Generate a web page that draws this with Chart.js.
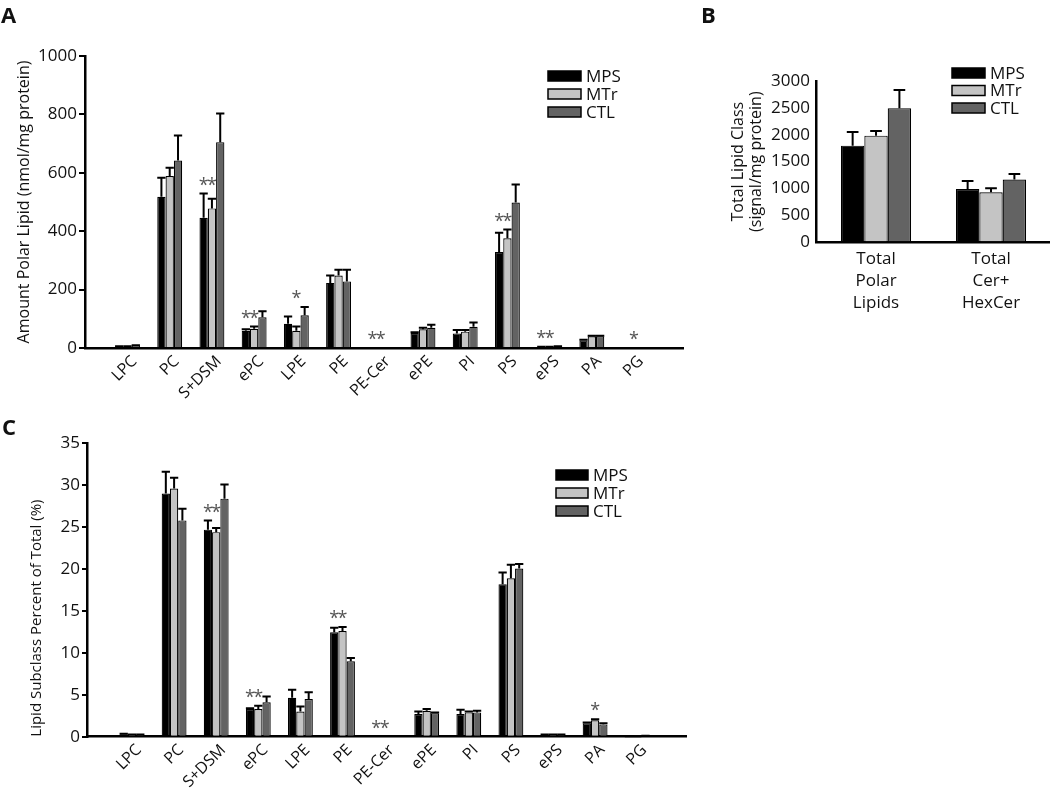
<!DOCTYPE html>
<html>
<head>
<meta charset="utf-8">
<script src="https://cdn.jsdelivr.net/npm/chart.js@4.4.1/dist/chart.umd.min.js"></script>
<style>
  html, body { margin: 0; padding: 0; background: #fff; }
  #wrap { position: relative; width: 1050px; height: 798px; overflow: hidden; }
  canvas { position: absolute; }
  .tag { position: absolute; font: bold 22px 'Open Sans', sans-serif; line-height: 22px; color: #111; }
</style>
</head>
<body>
<div id="wrap">
  <canvas id="chartA" width="690" height="400" style="left:0;top:0"></canvas>
  <canvas id="chartB" width="360" height="340" style="left:690px;top:0"></canvas>
  <canvas id="chartC" width="690" height="398" style="left:0;top:400px"></canvas>
  <div class="tag" style="left:1px;top:3px">A</div>
  <div class="tag" style="left:701px;top:3px">B</div>
  <div class="tag" style="left:2px;top:415px">C</div>
</div>
<script>
var groups = ['MPS', 'MTr', 'CTL'];
var groupColors = ['#000000', '#c4c4c4', '#636363'];

// Panel A: amount of polar lipid (nmol/mg protein)
var catsA = ['LPC', 'PC', 'S+DSM', 'ePC', 'LPE', 'PE', 'PE-Cer', 'ePE', 'PI', 'PS', 'ePS', 'PA', 'PG'];
var mpsA = [5, 518, 446, 59, 83, 223, 0, 51, 50, 329, 3, 26, 0];
var mtrA = [5, 589, 478, 66, 59, 248, 0, 64, 56, 376, 3, 40, 0];
var ctlA = [8, 642, 705, 105, 112, 228, 0, 69, 73, 498, 5, 40, 0];
var mpsErrA = [6, 583, 529, 64, 108, 248, 0, 54, 62, 395, 4, 28, 0];
var mtrErrA = [6, 617, 511, 74, 74, 268, 0, 69, 62, 406, 4, 42, 0];
var ctlErrA = [9, 728, 803, 126, 140, 268, 0, 80, 87, 560, 6, 42, 0];
var sigA = ['', '', '**', '**', '*', '', '**', '', '', '**', '**', '', '*'];
var yTicksA = [0, 200, 400, 600, 800, 1000];

// Panel B: total lipid class (signal/mg protein)
var catsB = [['Total', 'Polar', 'Lipids'], ['Total', 'Cer+', 'HexCer']];
var mpsB = [1798, 992];
var mtrB = [1984, 930];
var ctlB = [2492, 1166];
var mpsErrB = [2052, 1141];
var mtrErrB = [2071, 1004];
var ctlErrB = [2833, 1271];
var yTicksB = [0, 500, 1000, 1500, 2000, 2500, 3000];

// Panel C: lipid subclass percent of total (%)
var catsC = catsA;
var mpsC = [0.3, 29.0, 24.7, 3.3, 4.65, 12.45, 0, 2.7, 2.7, 18.2, 0.2, 1.6, 0.05];
var mtrC = [0.2, 29.6, 24.4, 3.3, 3.0, 12.6, 0, 3.1, 2.9, 18.9, 0.2, 1.95, 0.05];
var ctlC = [0.2, 25.8, 28.4, 4.1, 4.5, 9.0, 0, 2.8, 2.9, 20.05, 0.2, 1.47, 0.1];
var mpsErrC = [0.35, 31.6, 25.8, 3.4, 5.6, 13.0, 0, 3.0, 3.2, 19.6, 0.25, 1.7, 0.06];
var mtrErrC = [0.25, 30.9, 24.9, 3.7, 3.6, 13.1, 0, 3.3, 3.0, 20.5, 0.25, 2.07, 0.06];
var ctlErrC = [0.25, 27.2, 30.1, 4.8, 5.3, 9.4, 0, 2.9, 3.1, 20.6, 0.25, 1.6, 0.12];
var sigC = ['', '', '**', '**', '', '**', '**', '', '', '', '', '*', ''];
var yTicksC = [0, 5, 10, 15, 20, 25, 30, 35];

Chart.defaults.font.family = "'Open Sans', sans-serif";
Chart.defaults.color = '#111';

function makePanel(id, p) {
  var canvas = document.getElementById(id);
  var W = canvas.width, H = canvas.height;

  var datasets = p.series.map(function (vals, d) {
    return {
      label: groups[d],
      data: vals.map(function (v, i) { return { x: i, y: v }; }),
      errTop: p.errs[d],
      backgroundColor: groupColors[d],
      borderColor: '#000',
      borderWidth: 1.2,
      borderSkipped: 'bottom',
      barPercentage: 1,
      categoryPercentage: p.catPct
    };
  });

  // error bars, significance stars and the legend box
  var extras = {
    id: 'extras',
    afterDatasetsDraw: function (chart) {
      var ctx = chart.ctx, y = chart.scales.y;
      ctx.save();
      ctx.strokeStyle = '#000';
      ctx.lineWidth = p.errWidth;
      chart.data.datasets.forEach(function (ds, d) {
        chart.getDatasetMeta(d).data.forEach(function (bar, i) {
          var top = ds.errTop[i];
          if (!(top > ds.data[i].y)) return;
          var py = y.getPixelForValue(top);
          var half = bar.width * p.capRatio / 2;
          ctx.beginPath();
          ctx.moveTo(bar.x, bar.y);
          ctx.lineTo(bar.x, py);
          ctx.moveTo(bar.x - half, py);
          ctx.lineTo(bar.x + half, py);
          ctx.stroke();
        });
      });

      if (p.sig) {
        ctx.fillStyle = '#555';
        ctx.font = p.starFont + "px 'Open Sans', sans-serif";
        ctx.textAlign = 'center';
        ctx.textBaseline = 'middle';
        p.sig.forEach(function (s, i) {
          if (!s) return;
          var marks = s.length > 1 ? [0, 1] : [1];
          var over = s.length > 1 ? [0, 1] : [0, 1, 2];
          var topVal = 0;
          over.forEach(function (d) { topVal = Math.max(topVal, p.series[d][i], p.errs[d][i]); });
          var py = y.getPixelForValue(topVal) - p.starGap;
          marks.forEach(function (d) {
            var bar = chart.getDatasetMeta(d).data[i];
            ctx.fillText('*', bar.x, py);
          });
        });
      }

      var lg = p.legend;
      ctx.font = lg.font + "px 'Open Sans', sans-serif";
      ctx.textAlign = 'left';
      ctx.textBaseline = 'middle';
      ctx.lineWidth = 1.5;
      groups.forEach(function (g, k) {
        var cy = lg.y + k * lg.dy;
        ctx.fillStyle = groupColors[k];
        ctx.fillRect(lg.x, cy - lg.h / 2, lg.w, lg.h);
        ctx.strokeRect(lg.x, cy - lg.h / 2, lg.w, lg.h);
        ctx.fillStyle = '#111';
        ctx.fillText(g, lg.x + lg.w + 5, cy + 1);
      });
      ctx.restore();
    }
  };

  return new Chart(canvas, {
    type: 'bar',
    data: { datasets: datasets },
    options: {
      responsive: false,
      animation: false,
      layout: { padding: { left: 0, top: p.area.top, right: W - p.area.right, bottom: 0 } },
      plugins: { legend: { display: false }, tooltip: { enabled: false } },
      scales: {
        x: {
          type: 'linear',
          offset: false,
          bounds: 'data',
          min: p.xMin,
          max: p.xMax,
          afterBuildTicks: function (s) { s.ticks = p.cats.map(function (c, i) { return { value: i }; }); },
          afterFit: function (s) { s.height = H - p.area.bottom; },
          grid: { display: false, drawTicks: false, offset: false },
          border: { display: true, color: '#000', width: p.axisWidth },
          ticks: {
            autoSkip: false,
            maxRotation: p.rot,
            minRotation: p.rot,
            padding: p.xPad,
            labelOffset: p.labelOffset,
            font: { size: p.xFont, lineHeight: p.xLineHeight || 1.2 },
            callback: function (v) { return p.cats[v]; }
          }
        },
        y: {
          min: 0,
          max: p.yTicks[p.yTicks.length - 1],
          afterBuildTicks: function (s) { s.ticks = p.yTicks.map(function (v) { return { value: v }; }); },
          afterFit: function (s) { s.width = p.area.left; },
          grid: { display: true, drawOnChartArea: false, drawTicks: p.yTickLen > 0, tickLength: p.yTickLen, color: '#000', lineWidth: 2 },
          border: { display: true, color: '#000', width: p.axisWidth },
          ticks: { padding: p.yPad, font: { size: p.yFont }, callback: function (v) { return String(v); } },
          title: {
            display: true,
            text: p.yTitle,
            align: p.titleAlign,
            font: { size: p.titleFont, lineHeight: p.titleLH || 1.2 },
            padding: { top: p.titlePad, bottom: 0 }
          }
        }
      }
    },
    plugins: [extras]
  });
}

makePanel('chartA', {
  cats: catsA,
  series: [mpsA, mtrA, ctlA],
  errs: [mpsErrA, mtrErrA, ctlErrA],
  sig: sigA,
  yTicks: yTicksA,
  area: { left: 85, right: 683, top: 56, bottom: 348 },
  xMin: -1.007, xMax: 13.16, catPct: 0.59,
  rot: 45, xFont: 16, xPad: 4, labelOffset: 7,
  yFont: 17, yTickLen: 6, yPad: 2,
  yTitle: 'Amount Polar Lipid (nmol/mg protein)', titleFont: 16, titlePad: 15, titleAlign: 'center',
  legend: { x: 548, y: 76, dy: 18, w: 33, h: 10, font: 17 },
  errWidth: 2, capRatio: 1, starFont: 18, starGap: 8, axisWidth: 2.5
});

makePanel('chartB', {
  cats: catsB,
  series: [mpsB, mtrB, ctlB],
  errs: [mpsErrB, mtrErrB, ctlErrB],
  sig: null,
  yTicks: yTicksB,
  area: { left: 126, right: 360, top: 81, bottom: 242.3 },
  xMin: -0.522, xMax: 1.513, catPct: 0.61,
  rot: 0, xFont: 17, xLineHeight: 1.3, xPad: 6, labelOffset: 0,
  yFont: 17, yTickLen: 0, yPad: 6,
  yTitle: ['Total Lipid Class', '(signal/mg protein)'], titleFont: 16, titleLH: 1.15, titlePad: 39, titleAlign: 'center',
  legend: { x: 262, y: 73, dy: 17.5, w: 33, h: 10, font: 17 },
  errWidth: 2, capRatio: 0.5, axisWidth: 2.5
});

makePanel('chartC', {
  cats: catsC,
  series: [mpsC, mtrC, ctlC],
  errs: [mpsErrC, mtrErrC, ctlErrC],
  sig: sigC,
  yTicks: yTicksC,
  area: { left: 87, right: 686, top: 43.3, bottom: 336.7 },
  xMin: -1.069, xMax: 13.159, catPct: 0.59,
  rot: 45, xFont: 16, xPad: 4, labelOffset: 7,
  yFont: 17, yTickLen: 5, yPad: 2,
  yTitle: 'Lipid Subclass Percent of Total (%)', titleFont: 15, titlePad: 28, titleAlign: 'start',
  legend: { x: 556, y: 75, dy: 18, w: 32, h: 10, font: 17 },
  errWidth: 2, capRatio: 1, starFont: 18, starGap: 8, axisWidth: 2.5
});
</script>
</body>
</html>
